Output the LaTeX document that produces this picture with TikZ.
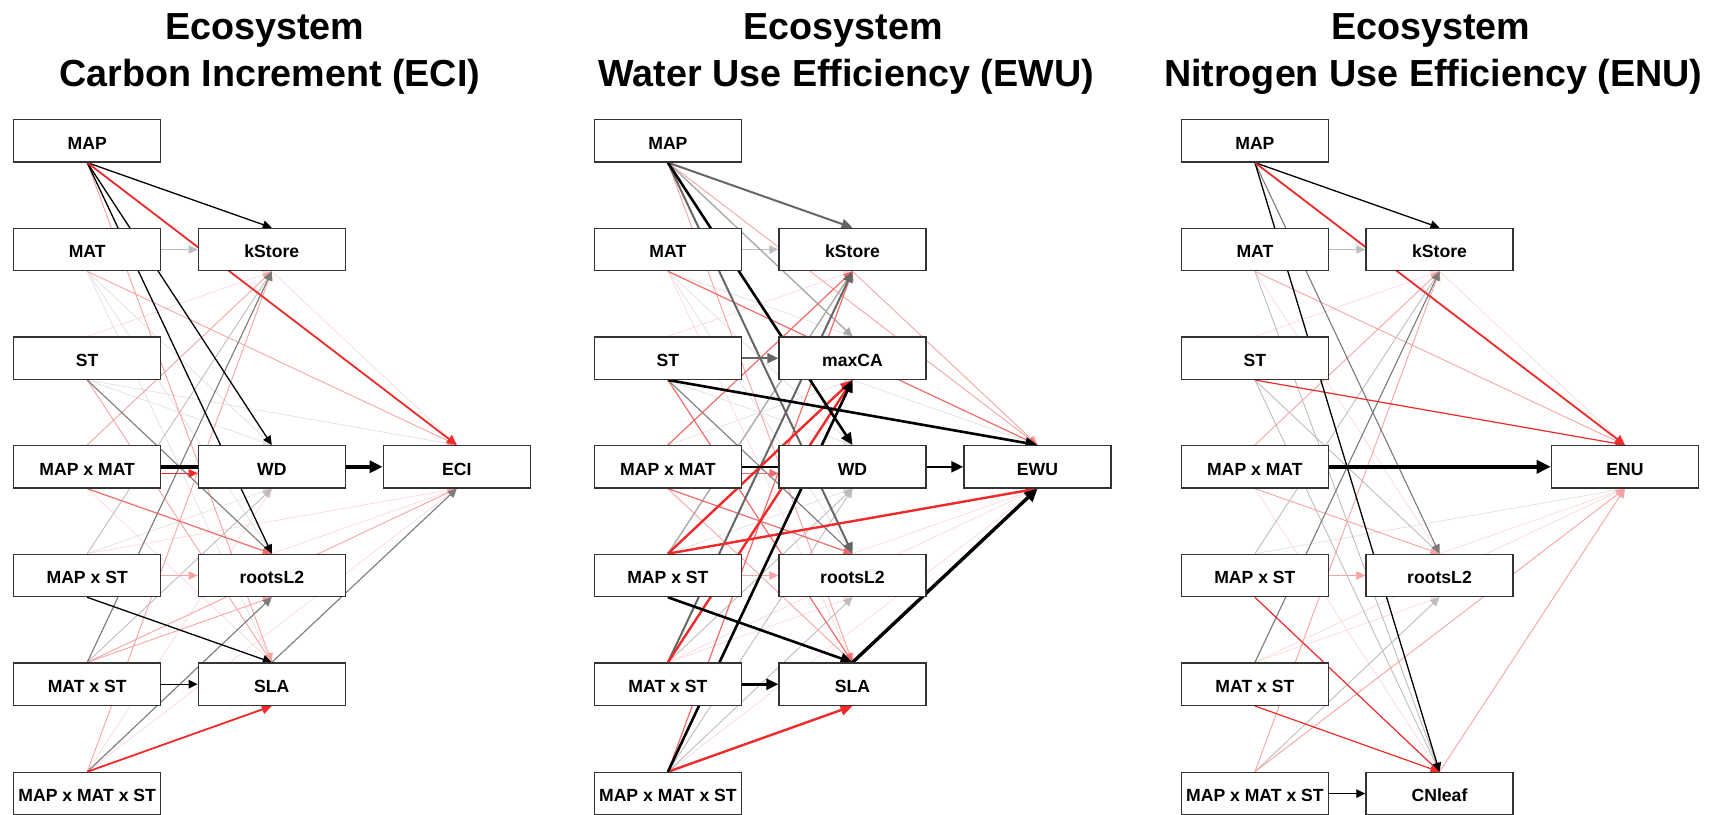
\documentclass[tikz,border=0pt]{standalone}
\usepackage{fontspec}
\setmainfont{Liberation Sans}
\usetikzlibrary{arrows.meta}
\pgfdeclarelayer{edges}
\pgfsetlayers{edges,main}
\definecolor{boxc}{HTML}{333333}
\definecolor{gA}{HTML}{666666}
\definecolor{gB}{HTML}{7A7A7A}
\definecolor{gC}{HTML}{BDBDBD}
\definecolor{gD}{HTML}{E2E2E2}
\definecolor{rA}{HTML}{EE2A2A}
\definecolor{rB}{HTML}{F26B6B}
\definecolor{rC}{HTML}{F7A3A3}
\definecolor{rD}{HTML}{FCD8D8}
\newcommand\eDn[3]{\draw[#1] (#2.south) -- (#3.north);}
\newcommand\eUp[3]{\draw[#1] (#2.north) -- (#3.south);}
\newcommand\eHz[3]{\draw[#1] (#2.east) -- (#3.west);}
\tikzset{
  bx/.style={draw=boxc, line width=1.3pt, fill=white, minimum width=147.1pt,
    minimum height=42.3pt, inner sep=0pt, text height=17pt, text depth=0.4pt,
    font=\fontsize{17.6}{20}\selectfont\bfseries},
  ttl/.style={anchor=base, inner sep=0pt, font=\fontsize{37.7}{44}\selectfont\bfseries},
  ed/.style={line cap=butt, -{Triangle[length=9pt,width=8.5pt]}},
  K3/.style={ed, draw=black, line width=3.4pt, -{Triangle[length=13pt,width=12pt]}},
  K4/.style={ed, draw=black, line width=4pt, -{Triangle[length=14pt,width=13pt]}},
  K2/.style={ed, draw=black, line width=2.6pt, -{Triangle[length=12pt,width=11pt]}},
  K1/.style={ed, draw=black, line width=1.3pt},
  G2/.style={ed, draw=gA, line width=2pt, -{Triangle[length=11pt,width=10pt]}},
  G1/.style={ed, draw=gB, line width=1.1pt},
  G1b/.style={ed, draw=gB!65!white, line width=1.4pt},
  G0/.style={ed, draw=gC, line width=0.9pt},
  GF/.style={ed, draw=gD, line width=0.8pt},
  R2/.style={ed, draw=rA, line width=2.4pt, -{Triangle[length=12pt,width=11pt]}},
  R1/.style={ed, draw=rA, line width=1.8pt, -{Triangle[length=10pt,width=9.5pt]}},
  R0/.style={ed, draw=rA, line width=1.2pt},
  RM/.style={ed, draw=rB, line width=1.2pt},
  RL/.style={ed, draw=rC, line width=0.9pt},
  RF/.style={ed, draw=rD, line width=0.7pt},
}
\begin{document}
\begin{tikzpicture}[x=1pt,y=-1pt]
\useasboundingbox (0,0) rectangle (1711,814);
% ---------- titles
\node[ttl] (t1a) at (264.9,39.5) {Ecosystem};
\node[ttl] (t1b) at (269.7,86.5) {Carbon Increment (ECI)};
\node[ttl] (t2a) at (843.2,39.5) {Ecosystem};
\node[ttl] (t2b) at (846.3,86.5) {Water Use Efficiency (EWU)};
\node[ttl] (t3a) at (1430.6,39.5) {Ecosystem};
\node[ttl] (t3b) at (1433.2,86.5) {Nitrogen Use Efficiency (ENU)};
% ---------- panel 1
\node[bx] (aMAP) at (87.2,140.8) {MAP};
\node[bx] (aMAT) at (87.2,249.5) {MAT};
\node[bx] (aST) at (87.2,358.2) {ST};
\node[bx] (aMM) at (87.2,466.8) {MAP x MAT};
\node[bx] (aMS) at (87.2,575.5) {MAP x ST};
\node[bx] (aTS) at (87.2,684.2) {MAT x ST};
\node[bx] (aMMS) at (87.2,793.6) {MAP x MAT x ST};
\node[bx] (akS) at (271.8,249.5) {kStore};
\node[bx] (aWD) at (271.8,466.8) {WD};
\node[bx] (aRL) at (271.8,575.5) {rootsL2};
\node[bx] (aSLA) at (271.8,684.2) {SLA};
\node[bx] (aY) at (456.8,466.8) {ECI};
% ---------- panel 2
\node[bx] (bMAP) at (667.9,140.8) {MAP};
\node[bx] (bMAT) at (667.9,249.5) {MAT};
\node[bx] (bST) at (667.9,358.2) {ST};
\node[bx] (bMM) at (667.9,466.8) {MAP x MAT};
\node[bx] (bMS) at (667.9,575.5) {MAP x ST};
\node[bx] (bTS) at (667.9,684.2) {MAT x ST};
\node[bx] (bMMS) at (667.9,793.6) {MAP x MAT x ST};
\node[bx] (bkS) at (852.5,249.5) {kStore};
\node[bx] (bCA) at (852.5,358.2) {maxCA};
\node[bx] (bWD) at (852.5,466.8) {WD};
\node[bx] (bRL) at (852.5,575.5) {rootsL2};
\node[bx] (bSLA) at (852.5,684.2) {SLA};
\node[bx] (bY) at (1037.5,466.8) {EWU};
% ---------- panel 3
\node[bx] (cMAP) at (1254.9,140.8) {MAP};
\node[bx] (cMAT) at (1254.9,249.5) {MAT};
\node[bx] (cST) at (1254.9,358.2) {ST};
\node[bx] (cMM) at (1254.9,466.8) {MAP x MAT};
\node[bx] (cMS) at (1254.9,575.5) {MAP x ST};
\node[bx] (cTS) at (1254.9,684.2) {MAT x ST};
\node[bx] (cMMS) at (1254.9,793.6) {MAP x MAT x ST};
\node[bx] (ckS) at (1439.5,249.5) {kStore};
\node[bx] (cRL) at (1439.5,575.5) {rootsL2};
\node[bx] (cCN) at (1439.5,793.6) {CNleaf};
\node[bx] (cY) at (1624.9,466.8) {ENU};
\begin{pgfonlayer}{edges}
% ===== panel 1
\eDn{GF}{aMAT}{aWD} \eDn{GF}{aMAT}{aRL} \eDn{GF}{aMAT}{aSLA}
\eDn{GF}{aST}{aWD} \eDn{GF}{aST}{aY} \eUp{GF}{aMS}{aWD}
\eUp{RF}{aST}{akS} \eDn{RF}{aMM}{aSLA} \eUp{RF}{aMS}{aY}
\eUp{RF}{aMMS}{aWD} \eUp{RF}{aMMS}{aY} \eDn{RF}{akS}{aY} \eUp{RF}{aRL}{aY}
\eHz{G0}{aMAT}{akS} \eUp{G0}{aMS}{akS} \eUp{G0}{aTS}{aWD}
\eDn{RL}{aMAP}{aSLA} \eDn{RL}{aMAT}{aY} \eDn{RL}{aST}{aSLA} \eUp{RL}{aMM}{akS}
\eHz{RL}{aMS}{aRL} \eUp{RL}{aTS}{aRL} \eUp{RL}{aTS}{aY} \eUp{RL}{aMMS}{akS}
\eDn{G1}{aST}{aRL} \eUp{G1}{aTS}{akS} \eUp{G1}{aMMS}{aRL} \eUp{G1}{aSLA}{aY}
\eDn{RM}{aMM}{aRL}
\draw[R0] ([yshift=-6.5pt]aMM.east) -- ([yshift=-6.5pt]aWD.west);
\eDn{K1}{aMAP}{akS} \eDn{K1}{aMAP}{aWD} \eDn{K1}{aMAP}{aRL}
\eDn{K1}{aMS}{aSLA} \eHz{K1}{aTS}{aSLA}
\eDn{R1}{aMAP}{aY} \eUp{R1}{aMMS}{aSLA}
\eHz{K3}{aMM}{aY}
% ===== panel 2
\eDn{GF}{bMAT}{bCA} \eDn{GF}{bMAT}{bWD} \eDn{GF}{bMAT}{bRL}
\eDn{GF}{bST}{bWD} \eUp{GF}{bMM}{bCA} \eUp{GF}{bMS}{bWD} \eDn{GF}{bCA}{bY}
\eDn{RF}{bMAT}{bSLA} \eUp{RF}{bST}{bkS} \eUp{RF}{bTS}{bRL} \eUp{RF}{bTS}{bY}
\eUp{RF}{bMMS}{bY} \eUp{RF}{bRL}{bY}
\eHz{G0}{bMAT}{bkS} \eUp{G0}{bTS}{bWD} \eUp{G0}{bMMS}{bWD} \eUp{G0}{bMMS}{bRL}
\eDn{RL}{bMAP}{bSLA} \eDn{RL}{bMAP}{bY} \eDn{RL}{bMM}{bSLA} \eHz{RL}{bMS}{bRL}
\eDn{RL}{bkS}{bY}
\eDn{G1b}{bMAP}{bCA} \eDn{G1}{bST}{bRL} \eUp{G1b}{bMS}{bkS}
\eDn{RM}{bMAT}{bY} \eDn{RM}{bST}{bSLA} \eUp{RM}{bMM}{bkS} \eDn{RM}{bMM}{bRL}
\eUp{RM}{bMMS}{bkS}
\draw[RM] ([yshift=-6.5pt]bMM.east) -- ([yshift=-6.5pt]bWD.west);
\eDn{G2}{bMAP}{bkS} \eDn{G2}{bMAP}{bRL} \eHz{G2}{bST}{bCA} \eUp{G2}{bTS}{bkS}
\eUp{R2}{bMS}{bCA} \eUp{R2}{bTS}{bCA} \eUp{R2}{bMS}{bY} \eUp{R2}{bMMS}{bSLA}
\eDn{K2}{bMAP}{bWD} \eDn{K2}{bST}{bY} \eDn{K2}{bMS}{bSLA} \eHz{K2}{bTS}{bSLA}
\eUp{K2}{bMMS}{bCA} \eUp{K3}{bSLA}{bY}
\eHz{K2}{bMM}{bY}
% ===== panel 3
\eUp{GF}{cMS}{cY}
\eDn{RF}{cMAT}{cRL} \eUp{RF}{cST}{ckS} \eDn{RF}{cMM}{cCN} \eUp{RF}{cTS}{cRL}
\eUp{RF}{cTS}{cY} \eDn{RF}{ckS}{cY} \eUp{RF}{cRL}{cY}
\eHz{G0}{cMAT}{ckS} \eDn{G0}{cMAT}{cCN} \eDn{G0}{cST}{cRL} \eDn{G0}{cST}{cCN}
\eUp{G0}{cMS}{ckS} \eUp{G0}{cMMS}{cRL}
\eDn{RL}{cMAT}{cY} \eUp{RL}{cMM}{ckS} \eDn{RL}{cMM}{cRL} \eHz{RL}{cMS}{cRL}
\eUp{RL}{cMMS}{ckS} \eUp{RL}{cMMS}{cY} \eUp{RL}{cCN}{cY}
\eDn{G1}{cMAP}{cRL} \eUp{G1}{cTS}{ckS}
\eDn{R0}{cST}{cY} \eDn{R0}{cMS}{cCN} \eDn{R0}{cTS}{cCN}
\eDn{K1}{cMAP}{ckS} \eDn{K1}{cMAP}{cCN} \eHz{K1}{cMMS}{cCN}
\eDn{R1}{cMAP}{cY}
\eHz{K4}{cMM}{cY}
\end{pgfonlayer}
\end{tikzpicture}
\end{document}
